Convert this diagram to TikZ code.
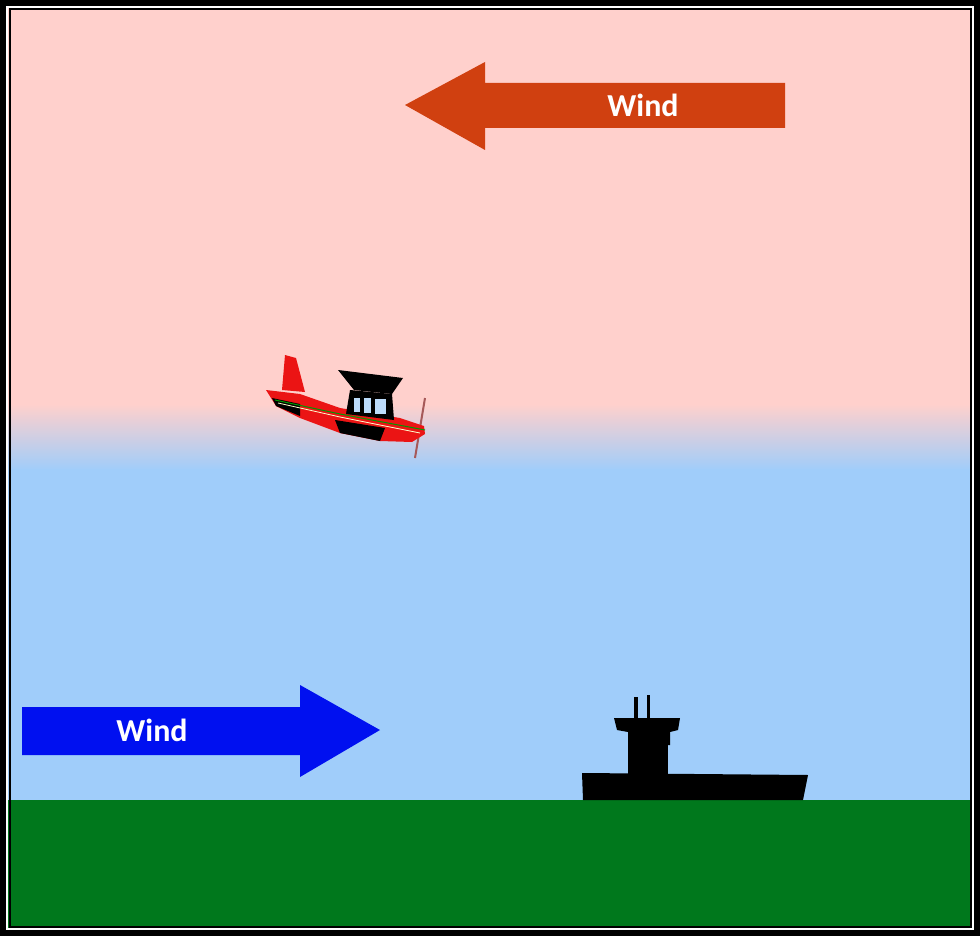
\documentclass[tikz,border=0pt]{standalone}
\usepackage{fontspec}
\setmainfont{Carlito}
\begin{document}
\begin{tikzpicture}[x=1pt,y=-1pt,
  windtxt/.style={text=white,font=\bfseries\fontsize{32}{32}\selectfont},
  blk/.style={fill=black,draw=none}]
\definecolor{pinksky}{RGB}{255,208,204}
\definecolor{bluesky}{RGB}{160,205,250}
\definecolor{grass}{RGB}{0,120,28}
\definecolor{windred}{RGB}{208,64,16}
\definecolor{windblue}{RGB}{0,16,240}
\definecolor{planered}{RGB}{235,20,20}
\useasboundingbox (0,0) rectangle (980,936);
\fill[pinksky] (0,0) rectangle (980,405);
\shade[top color=pinksky,bottom color=bluesky] (0,404) rectangle (980,470);
\fill[bluesky] (0,469) rectangle (980,800);
\fill[grass] (0,800) rectangle (980,936);
\draw[line width=6pt] (3,3) rectangle (977,933);
\draw[white,line width=1.5pt] (7,7) rectangle (973,929);
\draw[line width=2pt] (9.5,9.5) rectangle (970.5,926.5);
% top wind arrow
\fill[windred] (785,83) -- (485,83) -- (485,62) -- (405,105) -- (485,150) -- (485,128) -- (785,128) -- cycle;
\node[windtxt] (wtop) at (643,105) {Wind};
% bottom wind arrow
\fill[windblue] (22,707) -- (300,707) -- (300,685) -- (380,730) -- (300,777) -- (300,755) -- (22,755) -- cycle;
\node[windtxt] (wbot) at (152,730) {Wind};
% airplane
\draw[gray!70!red,line width=2pt] (425,398) -- (415,458);
\fill[planered] (285,355) -- (296,358) -- (305,392) -- (282,390) -- cycle;
\fill[planered] (266,390) -- (300,394) -- (340,408) -- (400,418) -- (424,426) -- (425,434) -- (412,442) -- (380,441) -- (340,433) -- (300,418) -- (276,406) -- cycle;
\fill[black] (272,398) -- (300,404) -- (300,416) -- (276,406) -- cycle;
\fill[black] (335,420) -- (385,428) -- (380,441) -- (340,433) -- cycle;
\draw[green!60!black,line width=1pt] (275,400) -- (340,414) -- (425,430);
\draw[white!80!yellow,line width=0.8pt] (278,403) -- (340,417) -- (420,433);
\fill[black] (338,370) -- (403,378) -- (392,394) -- (354,390) -- cycle;
\fill[black] (350,390) -- (392,394) -- (394,420) -- (346,414) -- cycle;
\fill[bluesky!70!white] (354,398) rectangle (360,412);
\fill[bluesky!70!white] (364,398) rectangle (371,413);
\fill[bluesky!70!white] (375,399) rectangle (386,414);
% tower and building
\fill[black] (634,697) rectangle (638,720);
\fill[black] (647,695) rectangle (650,720);
\fill[black] (614,718) -- (680,718) -- (678,730) -- (670,732) -- (670,745) -- (628,745) -- (628,732) -- (617,730) -- cycle;
\fill[black] (628,745) rectangle (668,775);
\fill[black] (582,773) -- (808,775) -- (803,800) -- (583,800) -- cycle;
\end{tikzpicture}
\end{document}
